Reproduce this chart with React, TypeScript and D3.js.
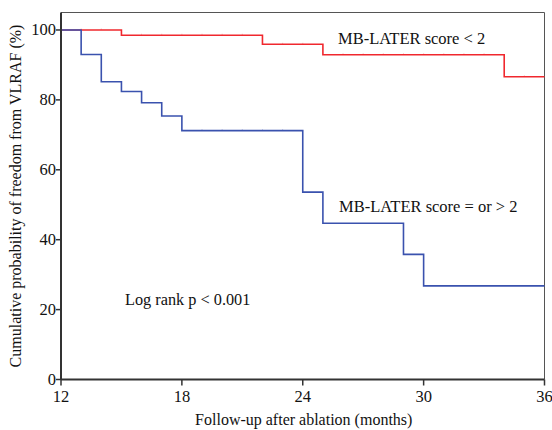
import React from "react";
import * as d3 from "d3";

const lowTimes = [12, 15, 22, 25, 34, 36];
const lowSurv = [100, 98.5, 95.9, 92.9, 86.6, 86.6];
const lowCensor = [13, 14, 16, 17, 18, 19, 20, 21, 23, 24, 26, 27, 28, 29, 30, 31, 32, 33, 35];

const highTimes = [12, 13, 14, 15, 16, 17, 18, 24, 25, 29, 30, 36];
const highSurv = [100, 93.0, 85.2, 82.4, 79.2, 75.4, 71.2, 53.6, 44.7, 35.8, 26.8, 26.8];
const highCensor = [19, 20, 21, 22, 23];

const xTicks = [12, 18, 24, 30, 36];
const yTicks = [0, 20, 40, 60, 80, 100];

const W = 552, H = 430;
const L = 61, R = 544.5, T = 12.5, B = 379.5;
const FONT = "'Liberation Serif', 'Times New Roman', serif";

export default function App() {
  const x = d3.scaleLinear().domain([12, 36]).range([L, R]);
  const y = d3.scaleLinear().domain([0, 105]).range([B, T]);
  const line = d3.line<[number, number]>().x(d => x(d[0])).y(d => y(d[1])).curve(d3.curveStepAfter);
  const lowPts = lowTimes.map((t, i) => [t, lowSurv[i]] as [number, number]);
  const highPts = highTimes.map((t, i) => [t, highSurv[i]] as [number, number]);
  const survAt = (times: number[], surv: number[], t: number) => {
    let v = surv[0];
    times.forEach((tt, i) => { if (tt <= t) v = surv[i]; });
    return v;
  };
  const red = "#f0282e";
  const blue = "#3a52ae";
  return (
    <svg width={W} height={H} style={{ position: "absolute", left: 0, top: 0, background: "#fff" }}>
      <rect x={0} y={0} width={W} height={H} fill="#fff" />
      <line x1={L} x2={R} y1={T} y2={T} stroke="#555" strokeWidth={1} />
      <line x1={R} x2={R} y1={T} y2={B} stroke="#555" strokeWidth={1} />
      <path d={line(lowPts) || ""} fill="none" stroke={red} strokeWidth={1.6} />
      <path d={line(highPts) || ""} fill="none" stroke={blue} strokeWidth={1.6} />
      {lowCensor.map(t => (
        <line key={"lc" + t} x1={x(t)} x2={x(t)} y1={y(survAt(lowTimes, lowSurv, t))} y2={y(survAt(lowTimes, lowSurv, t)) - 1.5} stroke={red} strokeWidth={0.8} opacity={0.35} />
      ))}
      {highCensor.map(t => (
        <line key={"hc" + t} x1={x(t)} x2={x(t)} y1={y(survAt(highTimes, highSurv, t))} y2={y(survAt(highTimes, highSurv, t)) - 1.5} stroke={blue} strokeWidth={0.8} opacity={0.35} />
      ))}
      <line x1={L} x2={L} y1={T} y2={B} stroke="#333" strokeWidth={2} />
      <line x1={L} x2={R} y1={B} y2={B} stroke="#333" strokeWidth={2} />
      {yTicks.map(v => (
        <g key={"y" + v}>
          <line x1={L - 5} x2={L} y1={y(v)} y2={y(v)} stroke="#333" strokeWidth={1.5} />
          <text x={L - 5} y={y(v) + 5.5} textAnchor="end" fontFamily={FONT} fontSize={16.5} fill="#111">{v}</text>
        </g>
      ))}
      {xTicks.map(v => (
        <g key={"x" + v}>
          <line x1={x(v)} x2={x(v)} y1={B} y2={B + 6} stroke="#333" strokeWidth={1.5} />
          <text x={x(v)} y={402} textAnchor="middle" fontFamily={FONT} fontSize={16.5} fill="#111">{v}</text>
        </g>
      ))}
      <text x={(L + R) / 2 + 1} y={425} textAnchor="middle" fontFamily={FONT} fontSize={16} fill="#111">Follow-up after ablation (months)</text>
      <text transform={`translate(21,${(T + B) / 2}) rotate(-90)`} textAnchor="middle" fontFamily={FONT} fontSize={16} fill="#111">Cumulative probability of freedom from VLRAF (%)</text>
      <text x={338} y={44} fontFamily={FONT} fontSize={16.5} fill="#111">MB-LATER score &lt; 2</text>
      <text x={339} y={212} fontFamily={FONT} fontSize={16.5} fill="#111">MB-LATER score = or &gt; 2</text>
      <text x={125} y={305} fontFamily={FONT} fontSize={16.3} fill="#111">Log rank p &lt; 0.001</text>
    </svg>
  );
}
